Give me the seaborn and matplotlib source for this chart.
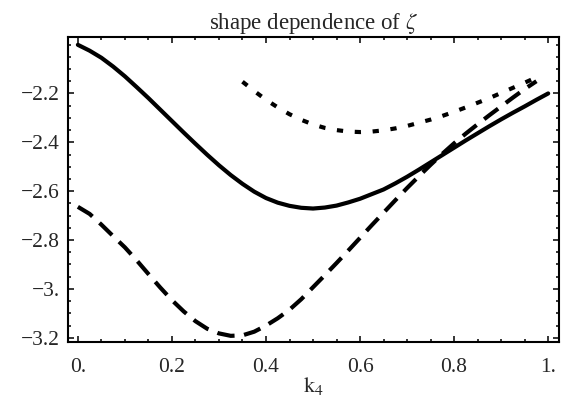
import pandas as pd
import seaborn as sns
import matplotlib.pyplot as plt
from matplotlib.ticker import MultipleLocator

# solid curve
k4_solid = [0.000, 0.025, 0.050, 0.075, 0.100, 0.125, 0.150, 0.175, 0.200, 0.225,
            0.250, 0.275, 0.300, 0.325, 0.350, 0.375, 0.400, 0.425, 0.450, 0.475,
            0.500, 0.525, 0.550, 0.575, 0.600, 0.625, 0.650, 0.675, 0.700, 0.725,
            0.750, 0.775, 0.800, 0.825, 0.850, 0.875, 0.900, 0.925, 0.950, 0.975, 1.000]
zeta_solid = [-2.001, -2.025, -2.054, -2.090, -2.130, -2.174, -2.219, -2.266, -2.313, -2.360,
              -2.406, -2.451, -2.494, -2.534, -2.570, -2.602, -2.628, -2.647, -2.660, -2.668,
              -2.671, -2.667, -2.659, -2.646, -2.631, -2.612, -2.593, -2.568, -2.541, -2.512,
              -2.482, -2.452, -2.422, -2.392, -2.363, -2.334, -2.306, -2.279, -2.253, -2.226, -2.200]

# dashed curve
k4_dashed = [0.000, 0.025, 0.050, 0.075, 0.100, 0.125, 0.150, 0.175, 0.200, 0.225,
             0.250, 0.275, 0.300, 0.325, 0.350, 0.375, 0.400, 0.425, 0.450, 0.475,
             0.500, 0.525, 0.550, 0.575, 0.600, 0.625, 0.650, 0.675, 0.700, 0.725,
             0.750, 0.775, 0.800, 0.825, 0.850, 0.875, 0.900, 0.925, 0.950, 0.975]
zeta_dashed = [-2.664, -2.693, -2.737, -2.784, -2.830, -2.883, -2.939, -2.994, -3.046, -3.092,
               -3.132, -3.163, -3.182, -3.192, -3.190, -3.175, -3.150, -3.120, -3.085, -3.042,
               -2.993, -2.944, -2.894, -2.843, -2.791, -2.739, -2.688, -2.637, -2.587, -2.539,
               -2.492, -2.447, -2.404, -2.364, -2.326, -2.289, -2.253, -2.217, -2.182, -2.150]

# dotted curve
k4_dotted = [0.350, 0.375, 0.400, 0.425, 0.450, 0.475, 0.500, 0.525, 0.550, 0.575,
             0.600, 0.625, 0.650, 0.675, 0.700, 0.725, 0.750, 0.775, 0.800, 0.825,
             0.850, 0.875, 0.900, 0.925, 0.950, 0.980]
zeta_dotted = [-2.152, -2.190, -2.226, -2.257, -2.285, -2.308, -2.327, -2.341, -2.350, -2.356,
               -2.358, -2.356, -2.351, -2.343, -2.333, -2.320, -2.307, -2.292, -2.275, -2.257,
               -2.238, -2.219, -2.198, -2.177, -2.156, -2.130]

xticks = [0.0, 0.2, 0.4, 0.6, 0.8, 1.0]
xticklabels = ['0.', '0.2', '0.4', '0.6', '0.8', '1.']
yticks = [-3.2, -3.0, -2.8, -2.6, -2.4, -2.2]
yticklabels = ['\u22123.2', '\u22123.', '\u22122.8', '\u22122.6', '\u22122.4', '\u22122.2']

sns.set_style('ticks')
plt.rcParams['font.family'] = ['Liberation Serif', 'DejaVu Serif']
plt.rcParams['mathtext.fontset'] = 'stix'

fig = plt.figure(figsize=(5.7, 4.04), dpi=100)
ax = fig.add_axes([0.1193, 0.1542, 0.8614, 0.753])

curves = [
    (k4_solid, zeta_solid, None),
    (k4_dashed, zeta_dashed, (4.2, 2.3)),
    (k4_dotted, zeta_dotted, (1.5, 2.8)),
]
for xs, ys, dash in curves:
    df = pd.DataFrame({'k4': xs, 'zeta': ys})
    sns.lineplot(data=df, x='k4', y='zeta', ax=ax, color='black', lw=3.0,
                 estimator=None, sort=False)
    if dash is not None:
        ax.lines[-1].set_dashes(dash)
        ax.lines[-1].set_dash_capstyle('butt')

ax.set_xlim(-0.021, 1.023)
ax.set_ylim(-3.216, -1.971)

ax.set_xticks(xticks, xticklabels)
ax.set_yticks(yticks, yticklabels)
ax.xaxis.set_minor_locator(MultipleLocator(0.05))
ax.yaxis.set_minor_locator(MultipleLocator(0.05))
ax.tick_params(which='both', direction='in', top=True, right=True, color='black',
               width=1.1, labelsize=15.5)
ax.tick_params(which='major', length=4.5)
ax.tick_params(which='minor', length=2.3)
ax.tick_params(axis='x', pad=11.5)
ax.tick_params(axis='y', pad=6)

for sp in ax.spines.values():
    sp.set_linewidth(1.5)
    sp.set_color('black')

ax.set_xlabel(r'$\mathrm{k}_4$', fontsize=16, labelpad=-1)
ax.set_ylabel('')
ax.set_title(r'shape dependence of $\zeta$', fontsize=16.5, pad=6)

fig.savefig('out.png', dpi=100)
